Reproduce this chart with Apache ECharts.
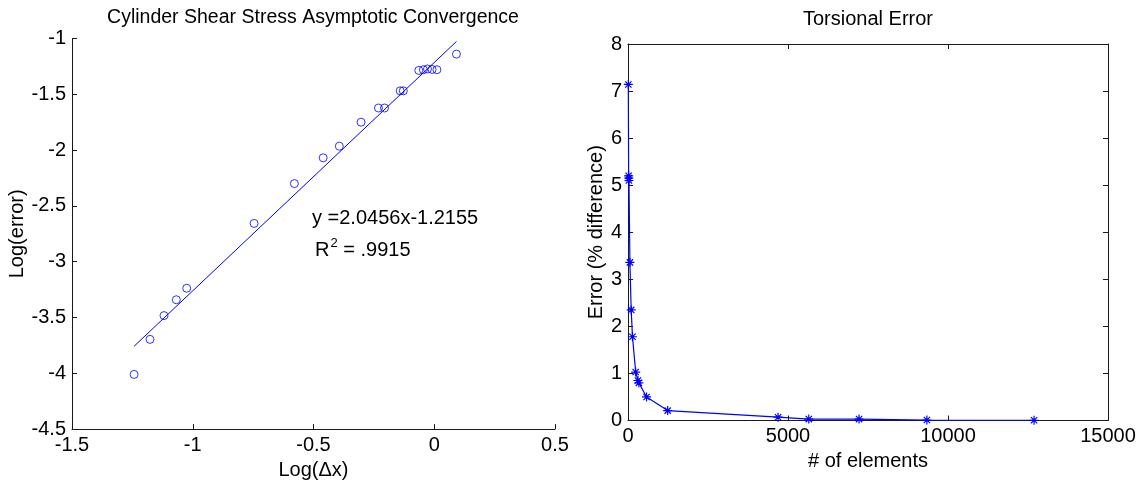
<!DOCTYPE html>
<html>
<head>
<meta charset="utf-8">
<script src="https://cdn.jsdelivr.net/npm/echarts@6/dist/echarts.min.js"></script>
<style>
html,body{margin:0;padding:0;background:#fff;}
#chart{width:1144px;height:485px;}
</style>
</head>
<body>
<div id="chart"></div>
<script>
// ---- Left panel: Cylinder Shear Stress Asymptotic Convergence ----
const logDx  = [-1.243, -1.177, -1.119, -1.068, -1.025, -0.746, -0.579, -0.460, -0.393, -0.303, -0.231, -0.206, -0.141, -0.128, -0.064, -0.045, -0.028, -0.009, 0.011, 0.092];
const logErr = [-4.010, -3.696, -3.483, -3.341, -3.238, -2.657, -2.300, -2.069, -1.965, -1.750, -1.623, -1.623, -1.469, -1.469, -1.286, -1.280, -1.273, -1.277, -1.280, -1.140];
const fitX   = [-1.243, 0.092];
const fitY   = [-3.758, -1.027];
const leftXTicks = [-1.5, -1, -0.5, 0, 0.5];
const leftYTicks = [-4.5, -4, -3.5, -3, -2.5, -2, -1.5, -1];
const fitText = 'y =2.0456x-1.2155';
const r2Text  = '.9915';

// ---- Right panel: Torsional Error ----
const elements = [10, 20, 25, 30, 60, 100, 140, 240, 310, 340, 580, 1240, 4690, 5650, 7220, 9340, 12690];
const errorPct = [7.14, 5.20, 5.15, 5.10, 3.36, 2.35, 1.78, 1.03, 0.85, 0.80, 0.50, 0.21, 0.07, 0.03, 0.03, 0.01, 0.005];
const rightXTicks = [0, 5000, 10000, 15000];
const rightYTicks = [0, 1, 2, 3, 4, 5, 6, 7, 8];

const FONT = 'Liberation Sans, Arial, Helvetica, sans-serif';
const FS = 20;
const AX = '#1a1a1a';
const BLUE = '#0000ff';
const ASTERISK = 'path://M5,0L5,10M0,5L10,5M1.5,1.5L8.5,8.5M8.5,1.5L1.5,8.5';

function zip(a, b) { return a.map((v, i) => [v, b[i]]); }
function span(t) { return { min: t[0], max: t[t.length - 1], interval: t[1] - t[0] }; }

function valAxis(gridIndex, ticks, extra) {
  const s = span(ticks);
  return Object.assign({
    type: 'value', gridIndex: gridIndex,
    min: s.min, max: s.max, interval: s.interval,
    splitLine: { show: false },
    axisLine: { show: true, onZero: false, lineStyle: { color: AX, width: 1 } },
    axisTick: { show: true, inside: true, length: 5, lineStyle: { color: AX } },
    axisLabel: { show: true, color: '#000', fontFamily: FONT, fontSize: FS, margin: 6,
                 formatter: function (v) { return String(v); } },
    nameTextStyle: { color: '#000', fontFamily: FONT, fontSize: FS },
    nameLocation: 'middle'
  }, extra || {});
}

const chart = echarts.init(document.getElementById('chart'), null, { renderer: 'canvas' });
chart.setOption({
  animation: false,
  backgroundColor: '#fff',
  title: [
    { text: 'Cylinder Shear Stress Asymptotic Convergence', left: 313, top: 8, padding: 0, textAlign: 'center',
      textStyle: { fontFamily: FONT, fontSize: 19.5, fontWeight: 'normal', color: '#000' } },
    { text: 'Torsional Error', left: 868, top: 9, padding: 0, textAlign: 'center',
      textStyle: { fontFamily: FONT, fontSize: FS, fontWeight: 'normal', color: '#000' } },
    { text: fitText, left: 312, top: 208, padding: 0,
      textStyle: { fontFamily: FONT, fontSize: FS, fontWeight: 'normal', color: '#000' } },
    { text: '{a|R}{s|2}{a| = ' + r2Text + '}', left: 315, top: 237, padding: 0,
      textStyle: { fontWeight: 'normal', rich: {
        a: { fontFamily: FONT, fontSize: FS, fontWeight: 'normal', color: '#000', verticalAlign: 'bottom' },
        s: { fontFamily: FONT, fontSize: 13, fontWeight: 'normal', color: '#000', verticalAlign: 'bottom', padding: [0, 0, 10, 1] }
      } } }
  ],
  grid: [
    { left: 72, top: 38.5, width: 483, height: 395, containLabel: false },
    { left: 628, top: 44, width: 480, height: 376.5, containLabel: false }
  ],
  xAxis: [
    valAxis(0, leftXTicks, { position: 'bottom', name: 'Log(\u0394x)', nameGap: 21 }),
    valAxis(1, rightXTicks, { position: 'bottom', name: '# of elements', nameGap: 30 }),
    valAxis(1, rightXTicks, { position: 'top', axisLabel: { show: false } })
  ],
  yAxis: [
    valAxis(0, leftYTicks, { position: 'left', name: 'Log(error)', nameGap: 44 }),
    valAxis(1, rightYTicks, { position: 'left', name: 'Error (% difference)', nameGap: 21 }),
    valAxis(1, rightYTicks, { position: 'right', axisLabel: { show: false } })
  ],
  series: [
    { type: 'line', xAxisIndex: 0, yAxisIndex: 0, data: zip(fitX, fitY), showSymbol: false,
      lineStyle: { color: BLUE, width: 1 }, silent: true },
    { type: 'scatter', xAxisIndex: 0, yAxisIndex: 0, data: zip(logDx, logErr),
      symbol: 'circle', symbolSize: 8,
      itemStyle: { color: 'transparent', borderColor: BLUE, borderWidth: 1 } },
    { type: 'line', xAxisIndex: 1, yAxisIndex: 1, data: zip(elements, errorPct),
      symbol: ASTERISK, symbolSize: 9, showSymbol: true, showAllSymbol: true,
      lineStyle: { color: BLUE, width: 1.2 },
      itemStyle: { color: 'transparent', borderColor: BLUE, borderWidth: 1.2 } }
  ]
});
</script>
</body>
</html>
